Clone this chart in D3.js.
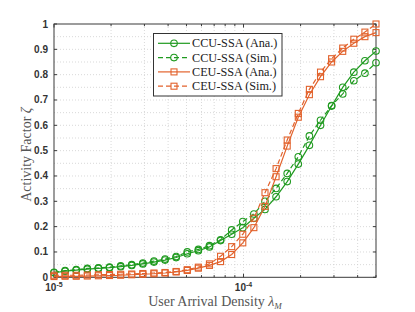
<!DOCTYPE html>
<html>
<head>
<meta charset="utf-8">
<script src="https://cdn.jsdelivr.net/npm/d3@7"></script>
<style>
  body { margin: 0; background: #fff; }
  svg { display: block; }
</style>
</head>
<body>
<div class="chart"></div>
<script>
// user arrival density (log spaced)
var density = [1.000e-5, 1.144e-5, 1.310e-5, 1.499e-5, 1.715e-5, 1.963e-5, 2.247e-5, 2.571e-5,
  2.943e-5, 3.368e-5, 3.854e-5, 4.411e-5, 5.048e-5, 5.777e-5, 6.611e-5, 7.566e-5, 8.659e-5,
  9.910e-5, 1.134e-4, 1.298e-4, 1.485e-4, 1.700e-4, 1.945e-4, 2.226e-4, 2.548e-4, 2.916e-4,
  3.337e-4, 3.819e-4, 4.370e-4, 5.000e-4]

var ccuAna = [0.018, 0.024, 0.028, 0.032, 0.035, 0.038, 0.042, 0.047, 0.053, 0.060, 0.068, 0.078,
  0.093, 0.105, 0.120, 0.145, 0.170, 0.196, 0.233, 0.268, 0.318, 0.378, 0.447, 0.521, 0.600,
  0.676, 0.750, 0.810, 0.855, 0.893]
var ccuSim = [0.020, 0.026, 0.030, 0.035, 0.037, 0.040, 0.045, 0.050, 0.056, 0.064, 0.072, 0.082,
  0.100, 0.110, 0.125, 0.148, 0.187, 0.220, 0.250, 0.300, 0.351, 0.410, 0.476, 0.558, 0.620,
  0.678, 0.724, 0.776, 0.806, 0.847]
var ceuAna = [0.003, 0.004, 0.004, 0.005, 0.006, 0.007, 0.008, 0.010, 0.012, 0.014, 0.017, 0.021,
  0.027, 0.036, 0.047, 0.062, 0.090, 0.136, 0.196, 0.280, 0.397, 0.518, 0.632, 0.721, 0.792,
  0.850, 0.892, 0.924, 0.950, 0.966]
var ceuSim = [0.008, 0.008, 0.008, 0.009, 0.010, 0.011, 0.012, 0.013, 0.015, 0.017, 0.019, 0.023,
  0.030, 0.040, 0.053, 0.083, 0.121, 0.170, 0.233, 0.334, 0.429, 0.542, 0.647, 0.742, 0.810,
  0.863, 0.905, 0.940, 0.968, 1.000]

var yTicks = [0, 0.1, 0.2, 0.3, 0.4, 0.5, 0.6, 0.7, 0.8, 0.9, 1]
var xMajor = [1e-5, 1e-4]
var xMinor = [2e-5, 3e-5, 4e-5, 5e-5, 6e-5, 7e-5, 8e-5, 9e-5, 2e-4, 3e-4, 4e-4, 5e-4]

var series = [
  { name: "CCU-SSA (Ana.)", values: ccuAna, color: "#1f9a1f", dash: null, marker: "circle" },
  { name: "CCU-SSA (Sim.)", values: ccuSim, color: "#1f9a1f", dash: "5,3", marker: "circle" },
  { name: "CEU-SSA (Ana.)", values: ceuAna, color: "#e2622c", dash: null, marker: "square" },
  { name: "CEU-SSA (Sim.)", values: ceuSim, color: "#e2622c", dash: "5,3", marker: "square" }
]

document.addEventListener("DOMContentLoaded", draw)

function draw() {
  var width = 415,
    height = 312,
    left = 54, right = 376, top = 24, bottom = 277.3

  var svg = d3.select(".chart").append("svg")
    .attr("width", width)
    .attr("height", height)

  var x = d3.scaleLog().domain([1e-5, 5e-4]).range([left, right])
  var y = d3.scaleLinear().domain([0, 1]).range([bottom, top])

  var grid = svg.append("g").attr("stroke", "#cfcfcf").attr("stroke-width", 0.8)
    .attr("stroke-dasharray", "1,2")

  // minor + major grid
  var yGrid = d3.range(0.05, 1, 0.05)
  grid.selectAll(".gy").data(yGrid).enter().append("line")
    .attr("x1", left).attr("x2", right)
    .attr("y1", d => y(d)).attr("y2", d => y(d))
  grid.selectAll(".gx").data(xMajor.concat(xMinor).filter(d => d > 1e-5 && d < 5e-4)).enter().append("line")
    .attr("y1", top).attr("y2", bottom)
    .attr("x1", d => x(d)).attr("x2", d => x(d))

  // axes with inward ticks on all four sides
  var axisColor = "#3a3a3a"
  var ax = svg.append("g").attr("stroke", axisColor).attr("stroke-width", 1)
  ax.append("rect").attr("x", left).attr("y", top)
    .attr("width", right - left).attr("height", bottom - top).attr("fill", "none")

  yTicks.forEach(function (t) {
    ax.append("line").attr("x1", left).attr("x2", left + 3).attr("y1", y(t)).attr("y2", y(t))
    ax.append("line").attr("x1", right).attr("x2", right - 3).attr("y1", y(t)).attr("y2", y(t))
  })
  xMajor.concat(xMinor).forEach(function (t) {
    var len = xMajor.indexOf(t) >= 0 ? 3.5 : 2.2
    ax.append("line").attr("y1", bottom).attr("y2", bottom - len).attr("x1", x(t)).attr("x2", x(t))
    ax.append("line").attr("y1", top).attr("y2", top + len).attr("x1", x(t)).attr("x2", x(t))
  })

  var tickFont = "'Liberation Sans', Arial, sans-serif"
  svg.append("g").selectAll("text").data(yTicks).enter().append("text")
    .attr("x", left - 6)
    .attr("y", d => y(d) + 3.5)
    .attr("text-anchor", "end")
    .attr("font-family", tickFont)
    .attr("font-weight", "bold")
    .attr("font-size", 10)
    .attr("fill", "#333")
    .text(d => d3.format("")(d))

  var xl = svg.append("g").selectAll("text").data(xMajor).enter().append("text")
    .attr("x", d => x(d))
    .attr("y", 291)
    .attr("text-anchor", "middle")
    .attr("font-family", tickFont)
    .attr("font-weight", "bold")
    .attr("font-size", 10)
    .attr("fill", "#333")
  xl.append("tspan").text("10")
  xl.append("tspan").attr("dy", -4).attr("font-size", 7).text(d => "-" + Math.round(-Math.log10(d)))

  // axis titles
  var serif = "'Liberation Serif', 'Times New Roman', serif"
  var xt = svg.append("text")
    .attr("x", (left + right) / 2)
    .attr("y", 306)
    .attr("text-anchor", "middle")
    .attr("font-family", serif)
    .attr("font-size", 14)
    .attr("fill", "#555")
  xt.append("tspan").text("User Arrival Density ")
  xt.append("tspan").attr("font-style", "italic").text("λ")
  xt.append("tspan").attr("font-style", "italic").attr("font-size", 9).attr("dy", 3).text("M")

  svg.append("text")
    .attr("transform", "translate(31," + ((top + bottom) / 2 + 4) + ") rotate(-90)")
    .attr("text-anchor", "middle")
    .attr("font-family", serif)
    .attr("font-size", 14)
    .attr("fill", "#555")
    .text("Activity Factor ")
    .append("tspan").attr("font-style", "italic").text("ζ")

  // series
  var line = d3.line().x((d, i) => x(density[i])).y(d => y(d))

  var plot = svg.append("g")
  series.forEach(function (s) {
    plot.append("path")
      .datum(s.values)
      .attr("d", line)
      .attr("fill", "none")
      .attr("stroke", s.color)
      .attr("stroke-width", 1.2)
      .attr("stroke-dasharray", s.dash)
    drawMarkers(plot, s, s.values.map((v, i) => [x(density[i]), y(v)]))
  })

  function drawMarkers(g, s, pts) {
    if (s.marker === "circle") {
      g.selectAll(null).data(pts).enter().append("circle")
        .attr("cx", d => d[0]).attr("cy", d => d[1]).attr("r", 3.3)
        .attr("fill", "none").attr("stroke", s.color).attr("stroke-width", 1.1)
    } else {
      g.selectAll(null).data(pts).enter().append("rect")
        .attr("x", d => d[0] - 3).attr("y", d => d[1] - 3)
        .attr("width", 6).attr("height", 6)
        .attr("fill", "none").attr("stroke", s.color).attr("stroke-width", 1.1)
    }
  }

  // legend
  var lg = svg.append("g")
  lg.append("rect").attr("x", 153.5).attr("y", 33.5).attr("width", 128.5).attr("height", 62.5)
    .attr("fill", "#fff").attr("stroke", "#333").attr("stroke-width", 1)
  series.forEach(function (s, i) {
    var ly = 43.3 + i * 14.3
    lg.append("line").attr("x1", 158).attr("x2", 190).attr("y1", ly).attr("y2", ly)
      .attr("stroke", s.color).attr("stroke-width", 1.2).attr("stroke-dasharray", s.dash)
    drawMarkers(lg, s, [[174, ly]])
    lg.append("text").attr("x", 192).attr("y", ly + 4)
      .attr("font-family", serif).attr("font-size", 12.2).attr("fill", "#222")
      .text(s.name)
  })
}
</script>
</body>
</html>
